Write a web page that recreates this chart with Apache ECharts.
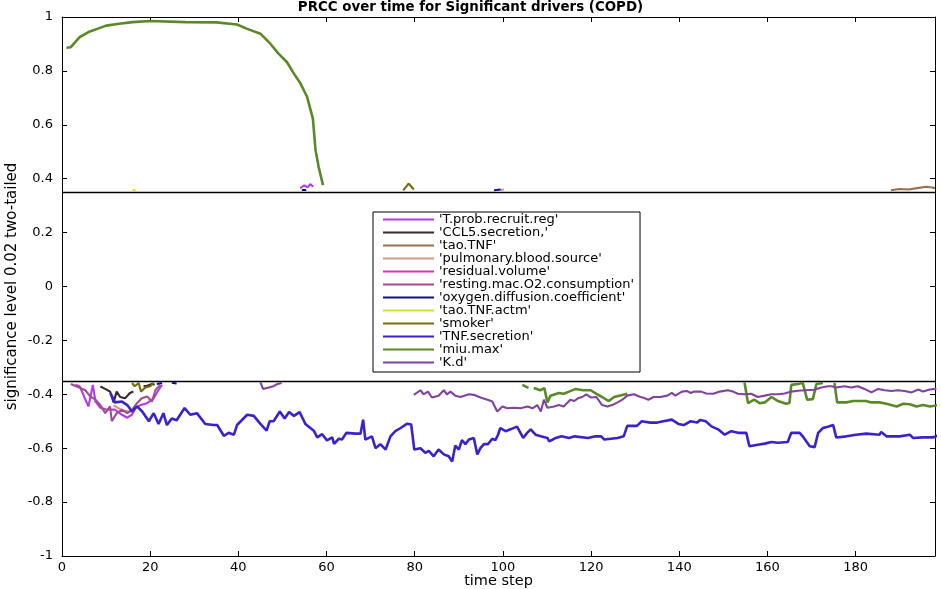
<!DOCTYPE html>
<html>
<head>
<meta charset="utf-8">
<script src="https://cdn.jsdelivr.net/npm/echarts@6/dist/echarts.min.js"></script>
<style>
  html, body { margin: 0; padding: 0; background: #fff; }
  #main { width: 941px; height: 589px; }
</style>
</head>
<body>
<div id="main"></div>
<script>
// PRCC values per driver, [time step, prcc], null = not significant (gap)
const tProbRecruitReg = [
  [3,-0.365],[4,-0.37],[5,-0.408],[6,-0.445],[7,-0.365],[7.6,-0.427],[8.7,-0.45],[10.2,-0.457],
  [12,-0.457],[13.6,-0.476],[14.8,-0.487],[15.9,-0.475],[16.7,-0.45],[17.8,-0.44],[19.3,-0.433],
  [20.8,-0.415],[21.9,-0.384],[22.7,-0.365],[23,null],
  [54,0.365],[55,0.375],[55.7,0.368],[56.3,0.38],[57,0.37]
]
const ccl5Secretion = [
  [8.7,-0.371],[9.8,-0.38],[10.9,-0.39],[11.7,-0.43],[12.4,-0.39],[13.2,-0.41],[14.3,-0.415],
  [15.4,-0.395],[16.2,-0.39],[17,null],
  [18.5,-0.37],[19.3,-0.368],[20.4,-0.362],[21,-0.365]
]
const taoTNF = [
  [188,0.357],[190,0.362],[192,0.36],[194,0.365],[196,0.37],[197,0.368],[198,0.365]
]
const pulmonaryBloodSource = [
  [11.7,-0.44],[12.8,-0.452],[14,-0.46],[15.5,-0.465],[16.5,-0.455],[17,null],
  [99.5,0.357],[100.2,0.361]
]
const residualVolume = []
const restingMacO2 = [
  [2,-0.362],[4,-0.376],[5.3,-0.385],[6.4,-0.408],[7.6,-0.42],[8.7,-0.44],[9.8,-0.47],
  [10.9,-0.445],[11.3,-0.5],[12.4,-0.47],[13.6,-0.458],[14.8,-0.47],[15.9,-0.458],[17,-0.433],
  [18.1,-0.415],[19.3,-0.408],[20.4,-0.427],[21.2,-0.384],[22.3,-0.365]
]
const oxygenDiffusion = [
  [21.5,-0.362],[22.7,-0.358],[23.5,null],[24.9,-0.357],[26,-0.36],[27,null],
  [54.4,0.358],[55.4,0.358],[56,null],[98,0.357],[99.5,0.36]
]
const taoTNFactm = [[16,0.357],[16.7,0.358]]
const smoker = [
  [15.9,-0.358],[16.5,-0.37],[17.4,-0.358],[17.9,-0.39],[18.9,-0.375],[20,-0.37],[20.8,-0.357],
  [21,null],[77.4,0.357],[78.6,0.382],[79.8,0.36]
]
const tnfSecretion = [
  [11,-0.396],[12,-0.43],[13.6,-0.427],[14.8,-0.44],[15.9,-0.464],[17,-0.445],[18.2,-0.464],
  [19.7,-0.5],[20.8,-0.47],[21.9,-0.51],[23,-0.47],[23.8,-0.514],[24.9,-0.49],[26,-0.496],
  [27.8,-0.451],[29.1,-0.476],[30.6,-0.47],[32.5,-0.51],[34.4,-0.514],[35.2,-0.514],[36.7,-0.554],
  [37.8,-0.543],[39,-0.55],[39.7,-0.514],[42,-0.476],[43.5,-0.48],[45,-0.51],[46.4,-0.535],
  [47.1,-0.5],[48,-0.5],[49.4,-0.464],[50.5,-0.49],[51.5,-0.466],[52.6,-0.48],[53.9,-0.466],
  [55.2,-0.51],[57.1,-0.535],[57.9,-0.56],[59,-0.548],[60.1,-0.571],[61.3,-0.56],[61.7,-0.584],
  [62.8,-0.565],[63.5,-0.568],[64.5,-0.543],[66.6,-0.546],[67.7,-0.546],[68.3,-0.494],[68.8,-0.568],
  [70.3,-0.556],[71.1,-0.6],[72.2,-0.585],[73.4,-0.605],[74.5,-0.556],[75.6,-0.537],[76.8,-0.525],
  [78.3,-0.509],[79.2,-0.512],[79.9,-0.605],[81.3,-0.6],[82.4,-0.617],[83.2,-0.61],[84.3,-0.63],
  [85.4,-0.605],[86.6,-0.623],[87.7,-0.63],[88.5,-0.649],[89.2,-0.59],[90,-0.605],[90.7,-0.57],
  [91.5,-0.585],[92.3,-0.568],[93.4,-0.562],[94.2,-0.623],[94.9,-0.6],[95.7,-0.585],[96.6,-0.585],
  [97.6,-0.565],[98.3,-0.57],[98.9,-0.55],[99.4,-0.525],[100.6,-0.537],[101.7,-0.53],[103.2,-0.52],
  [104.6,-0.562],[105.5,-0.543],[106.3,-0.53],[107.4,-0.55],[108.6,-0.556],[110.1,-0.562],
  [110.5,-0.575],[112,-0.562],[113.3,-0.556],[115,-0.562],[116.3,-0.556],[119.3,-0.562],
  [121,-0.556],[122.3,-0.556],[123,-0.568],[126,-0.562],[127.4,-0.556],[128.2,-0.517],
  [130.4,-0.517],[131.5,-0.5],[133.4,-0.505],[135,-0.505],[136.4,-0.5],[138.3,-0.494],
  [139.8,-0.51],[141,-0.514],[142.6,-0.5],[144,-0.505],[144.8,-0.495],[146,-0.5],[147.3,-0.519],
  [148.8,-0.53],[150.3,-0.55],[151.8,-0.537],[153.3,-0.543],[155.2,-0.543],[155.9,-0.593],
  [157.8,-0.587],[159.4,-0.583],[160.9,-0.577],[162.4,-0.58],[164.6,-0.577],[165.4,-0.543],
  [167.3,-0.543],[168,-0.556],[169.6,-0.593],[170.7,-0.596],[171.5,-0.543],[172.6,-0.525],
  [173.7,-0.52],[174.9,-0.514],[175.6,-0.56],[177.9,-0.556],[180.1,-0.55],[182.4,-0.546],
  [185.4,-0.55],[185.8,-0.54],[187,-0.556],[190,-0.556],[192.3,-0.55],[193,-0.562],
  [195.3,-0.56],[197.5,-0.56],[198.6,-0.553]
]
const miuMax = [
  [1,0.886],[2,0.888],[4,0.925],[6,0.944],[8,0.956],[10,0.968],[13,0.975],[16,0.981],[20,0.985],
  [28,0.981],[35,0.98],[39.7,0.972],[42,0.956],[45,0.938],[47.3,0.9],[49.1,0.864],[51,0.833],
  [52.6,0.79],[54.1,0.753],[55.6,0.703],[56.9,0.623],[57.5,0.506],[58.2,0.444],[59.2,0.376],
  [60,null],
  [104.4,-0.365],[105.8,-0.376],[106.4,null],[107,-0.377],[108.5,-0.385],[109.4,-0.377],
  [110.1,-0.43],[110.8,-0.405],[112.7,-0.395],[113.8,-0.398],[115,-0.39],[116.5,-0.38],
  [118.2,-0.385],[119.9,-0.385],[121.4,-0.4],[122.5,-0.41],[124,-0.425],[125.2,-0.41],
  [126.4,-0.405],[128.2,-0.398],[129,null],
  [154.8,-0.356],[155.6,-0.433],[157,-0.42],[158.2,-0.433],[159.4,-0.43],[160.9,-0.41],
  [162.4,-0.425],[164.2,-0.435],[165,-0.432],[165.4,-0.365],[166.9,-0.362],[168,-0.357],
  [169,-0.42],[170.3,-0.418],[171.1,-0.362],[172.6,-0.358],[173.4,null],[175.2,-0.358],
  [175.8,-0.43],[177.9,-0.43],[179.5,-0.425],[182.4,-0.425],[183.5,-0.43],[185.4,-0.43],
  [187,-0.435],[189.3,-0.445],[190.8,-0.435],[192.3,-0.437],[193.8,-0.445],[195.3,-0.44],
  [196.9,-0.445],[198.6,-0.44]
]
const kD = [
  [45,-0.356],[45.6,-0.38],[46.9,-0.375],[48,-0.37],[48.7,-0.363],[49.8,-0.358],[50.5,null],
  [79.8,-0.402],[81.3,-0.385],[82,-0.4],[83,-0.39],[83.9,-0.412],[85.4,-0.405],[86.6,-0.385],
  [87.3,-0.4],[88.1,-0.39],[89.2,-0.405],[90.4,-0.41],[92.3,-0.4],[93.4,-0.402],[94.9,-0.412],
  [96.5,-0.42],[97.6,-0.427],[98.7,-0.464],[99.9,-0.445],[101,-0.452],[102.5,-0.45],[104,-0.452],
  [105.6,-0.445],[106.7,-0.452],[107.8,-0.44],[108.6,-0.464],[109.3,-0.42],[110.1,-0.45],
  [111.6,-0.445],[112.7,-0.44],[113.8,-0.445],[115.3,-0.42],[116.2,-0.425],[117,-0.415],
  [118,-0.41],[118.9,-0.4],[120,-0.412],[121.2,-0.41],[122.5,-0.44],[123.7,-0.445],[124.8,-0.44],
  [126,-0.43],[127.1,-0.42],[128.2,-0.405],[129.7,-0.4],[131.2,-0.41],[131.9,-0.413],[133,-0.42],
  [134.2,-0.41],[135.7,-0.41],[137.3,-0.405],[138.3,-0.395],[139.1,-0.405],[140.6,-0.39],
  [141.8,-0.388],[142.6,-0.395],[143.4,-0.39],[145,-0.39],[146.1,-0.397],[147.7,-0.398],
  [149.2,-0.39],[151,-0.385],[152.2,-0.39],[153.3,-0.398],[154.8,-0.4],[156.3,-0.398],
  [157.8,-0.41],[159.4,-0.405],[160.9,-0.4],[162.4,-0.4],[163.9,-0.397],[165.4,-0.39],
  [166.9,-0.387],[168.4,-0.385],[170.7,-0.383],[172.2,-0.375],[173.7,-0.37],[174.5,-0.37],
  [175.6,-0.375],[177.5,-0.37],[179,-0.375],[180.5,-0.37],[182,-0.38],[183.6,-0.393],
  [185.1,-0.38],[186.6,-0.385],[188.1,-0.388],[189.6,-0.385],[191.1,-0.388],[192.7,-0.393],
  [194.2,-0.382],[195.3,-0.39],[196.8,-0.382],[198.3,-0.38]
]

const driverNames = ["'T.prob.recruit.reg'", "'CCL5.secretion,'", "'tao.TNF'", "'pulmonary.blood.source'",
  "'residual.volume'", "'resting.mac.O2.consumption'", "'oxygen.diffusion.coefficient'", "'tao.TNF.actm'",
  "'smoker'", "'TNF.secretion'", "'miu.max'", "'K.d'"]
const driverData = [tProbRecruitReg, ccl5Secretion, taoTNF, pulmonaryBloodSource, residualVolume,
  restingMacO2, oxygenDiffusion, taoTNFactm, smoker, tnfSecretion, miuMax, kD]
const driverColors = ['#b23de6', '#3d2630', '#9a7050', '#d49488', '#e030c8', '#a24d8e',
  '#12127e', '#c8e62a', '#7c6a12', '#3a22cc', '#5a8a28', '#8242a2']
const threshold = 0.355 // significance level 0.02 two-tailed
const yTicks = { min: -1, max: 1, step: 0.2 }
const xTicks = { min: 0, max: 198, step: 20 }

const FONT = 'DejaVu Sans'
const chart = echarts.init(document.getElementById('main'), null, { renderer: 'canvas' })

function boxAxis(pos, isX) {
  // mirror axis with inward ticks only (no labels), MATLAB box style
  const t = isX ? xTicks : yTicks
  return {
    type: 'value', position: pos, min: t.min, max: t.max, interval: t.step,
    axisLine: { show: true, onZero: false, lineStyle: { color: '#000', width: 1 } },
    axisTick: { show: true, inside: true, length: 5, lineStyle: { color: '#000', width: 1 } },
    axisLabel: { show: false },
    splitLine: { show: false }
  }
}

const series = driverNames.map((name, i) => ({
  name: name,
  type: 'line',
  data: driverData[i],
  symbol: 'none',
  connectNulls: false,
  animation: false,
  itemStyle: { color: driverColors[i] },
  lineStyle: { color: driverColors[i], width: (i === 9 || i === 10) ? 2.6 : 2.1 },
  z: 3 + i
}))
series[0].markLine = {
  silent: true,
  symbol: ['none', 'none'],
  label: { show: false },
  lineStyle: { color: '#000', width: 1.3, type: 'solid' },
  data: [{ yAxis: threshold }, { yAxis: -threshold }],
  animation: false
}

chart.setOption({
  backgroundColor: '#fff',
  animation: false,
  title: {
    text: 'PRCC over time for Significant drivers (COPD)',
    left: 'center',
    top: 0,
    padding: [1, 0, 0, 0],
    textStyle: { fontFamily: FONT, fontSize: 13.4, fontWeight: 'bold', color: '#000' }
  },
  grid: { left: 62, right: 6, top: 17, bottom: 33, containLabel: false, outerBoundsMode: 'none' },
  legend: {
    data: driverNames,
    orient: 'vertical',
    left: 373,
    top: 212,
    padding: [1, 6, 3, 10],
    itemGap: 0,
    itemWidth: 51,
    itemHeight: 2,
    icon: 'rect',
    backgroundColor: '#fff',
    borderColor: '#000',
    borderWidth: 1,
    borderRadius: 0,
    selectedMode: false,
    textStyle: { fontFamily: FONT, fontSize: 13, lineHeight: 12, color: '#000' }
  },
  xAxis: [
    {
      type: 'value', position: 'bottom', min: xTicks.min, max: xTicks.max, interval: xTicks.step,
      name: 'time step', nameLocation: 'middle', nameGap: 18, nameMoveOverlap: false,
      nameTextStyle: { fontFamily: FONT, fontSize: 14.5, color: '#000' },
      axisLine: { show: true, onZero: false, lineStyle: { color: '#000', width: 1 } },
      axisTick: { show: true, inside: true, length: 5, lineStyle: { color: '#000', width: 1 } },
      axisLabel: {
        color: '#000', fontFamily: FONT, fontSize: 13, margin: 5,
        formatter: v => (v % xTicks.step === 0 ? String(v) : '')
      },
      splitLine: { show: false }
    },
    boxAxis('top', true)
  ],
  yAxis: [
    {
      type: 'value', position: 'left', min: yTicks.min, max: yTicks.max, interval: yTicks.step,
      name: 'significance level 0.02 two-tailed', nameLocation: 'middle', nameGap: 42, nameRotate: 90,
      nameMoveOverlap: false,
      nameTextStyle: { fontFamily: FONT, fontSize: 15, color: '#000' },
      axisLine: { show: true, onZero: false, lineStyle: { color: '#000', width: 1 } },
      axisTick: { show: true, inside: true, length: 5, lineStyle: { color: '#000', width: 1 } },
      axisLabel: { color: '#000', fontFamily: FONT, fontSize: 13, margin: 9 },
      splitLine: { show: false }
    },
    boxAxis('right', false)
  ],
  series: series
})
</script>
</body>
</html>
